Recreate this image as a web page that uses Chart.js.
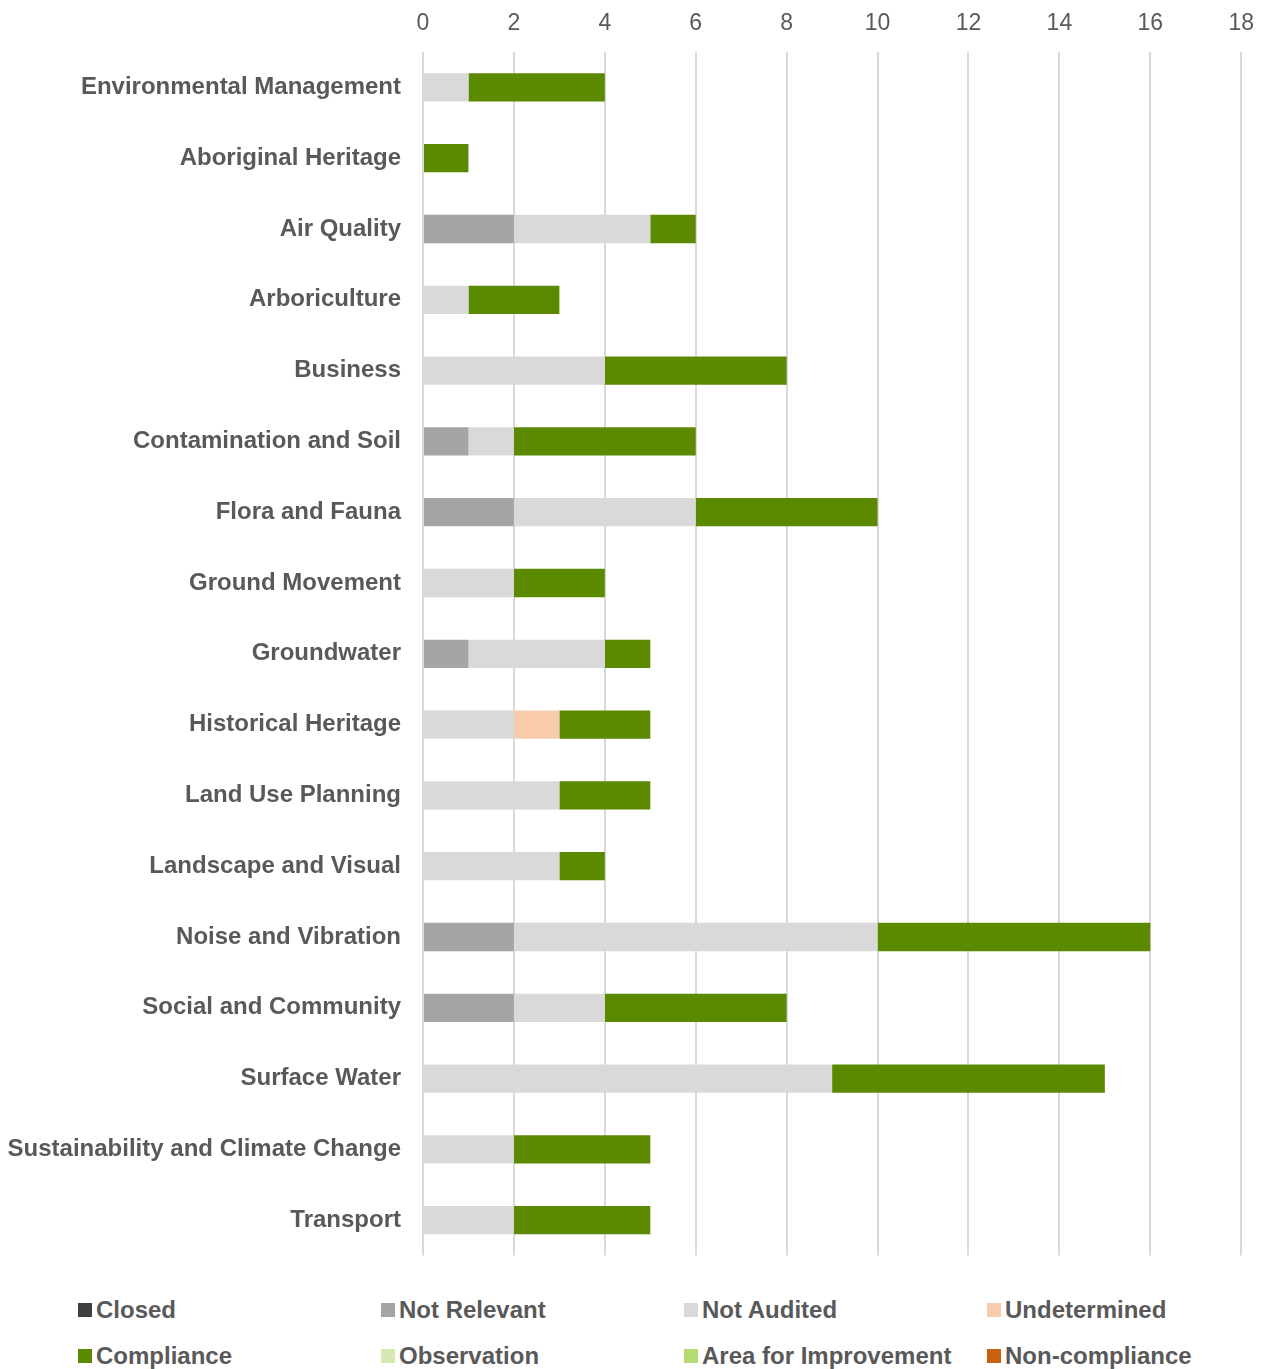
<!DOCTYPE html>
<html>
<head>
<meta charset="utf-8">
<script src="https://cdn.jsdelivr.net/npm/chart.js@4.4.0/dist/chart.umd.min.js"></script>
<style>
  html, body { margin: 0; padding: 0; background: #fff; }
  body { width: 1269px; height: 1369px; overflow: hidden; font-family: "Liberation Sans", Arial, sans-serif; }
  #wrap { position: relative; width: 1269px; height: 1292px; }
  #legend {
    display: grid;
    grid-template-columns: repeat(4, 303px);
    row-gap: 20px;
    margin-left: 78px;
    margin-top: 5px;
  }
  .item { display: flex; align-items: center; height: 26px; font-weight: bold; font-size: 24px; color: #595959; white-space: nowrap; }
  .box { width: 14px; height: 14px; margin-right: 4px; flex: none; }
</style>
</head>
<body>
<div id="wrap"><canvas id="chart"></canvas></div>
<div id="legend"></div>
<script>
// Audit results per environmental aspect
const categories = [
  'Environmental Management', 'Aboriginal Heritage', 'Air Quality', 'Arboriculture',
  'Business', 'Contamination and Soil', 'Flora and Fauna', 'Ground Movement',
  'Groundwater', 'Historical Heritage', 'Land Use Planning', 'Landscape and Visual',
  'Noise and Vibration', 'Social and Community', 'Surface Water',
  'Sustainability and Climate Change', 'Transport'
];

const closed         = [0, 0, 0, 0, 0, 0, 0, 0, 0, 0, 0, 0, 0, 0, 0, 0, 0];
const notRelevant    = [0, 0, 2, 0, 0, 1, 2, 0, 1, 0, 0, 0, 2, 2, 0, 0, 0];
const notAudited     = [1, 0, 3, 1, 4, 1, 4, 2, 3, 2, 3, 3, 8, 2, 9, 2, 2];
const undetermined   = [0, 0, 0, 0, 0, 0, 0, 0, 0, 1, 0, 0, 0, 0, 0, 0, 0];
const compliance     = [3, 1, 1, 2, 4, 4, 4, 2, 1, 2, 2, 1, 6, 4, 6, 3, 3];
const observation    = [0, 0, 0, 0, 0, 0, 0, 0, 0, 0, 0, 0, 0, 0, 0, 0, 0];
const areaForImprove = [0, 0, 0, 0, 0, 0, 0, 0, 0, 0, 0, 0, 0, 0, 0, 0, 0];
const nonCompliance  = [0, 0, 0, 0, 0, 0, 0, 0, 0, 0, 0, 0, 0, 0, 0, 0, 0];

const seriesNames = ['Closed', 'Not Relevant', 'Not Audited', 'Undetermined',
  'Compliance', 'Observation', 'Area for Improvement', 'Non-compliance'];
const seriesData = [closed, notRelevant, notAudited, undetermined,
  compliance, observation, areaForImprove, nonCompliance];
const seriesColors = ['#404040', '#A5A5A5', '#D9D9D9', '#F8CBAD',
  '#5B8A00', '#D7E9B3', '#B5DA72', '#C8600F'];

const xMax = 18;
const xStep = 2;
const textColor = '#595959';

const datasets = seriesNames.map((name, i) => ({
  label: name,
  data: seriesData[i],
  backgroundColor: seriesColors[i],
  borderWidth: 0,
  categoryPercentage: 1,
  barPercentage: 0.4
}));

const chart = new Chart(document.getElementById('chart'), {
  type: 'bar',
  data: { labels: categories, datasets },
  options: {
    indexAxis: 'y',
    responsive: true,
    maintainAspectRatio: false,
    animation: false,
    layout: { padding: { top: 0, right: 9, bottom: 0, left: 0 } },
    scales: {
      x: {
        position: 'top',
        stacked: true,
        min: 0,
        max: xMax,
        afterFit: s => { s.height = 52; },
        ticks: {
          stepSize: xStep,
          padding: 15,
          color: textColor,
          font: { family: '"Liberation Sans", Arial, sans-serif', size: 23 }
        },
        grid: { color: '#D9D9D9', lineWidth: 2, drawTicks: false },
        border: { display: false }
      },
      y: {
        stacked: true,
        afterFit: s => { s.width = 423; },
        ticks: {
          padding: 22,
          color: textColor,
          font: { family: '"Liberation Sans", Arial, sans-serif', size: 24, weight: 'bold' }
        },
        grid: { display: false, drawTicks: false },
        border: { display: false }
      }
    },
    plugins: {
      legend: { display: false },
      tooltip: { enabled: false }
    }
  }
});

// Legend laid out as a 4-column grid like the original
const legendEl = document.getElementById('legend');
chart.data.datasets.forEach(ds => {
  const item = document.createElement('div');
  item.className = 'item';
  item.innerHTML = `<span class="box" style="background:${ds.backgroundColor}"></span>${ds.label}`;
  legendEl.appendChild(item);
});
</script>
</body>
</html>
